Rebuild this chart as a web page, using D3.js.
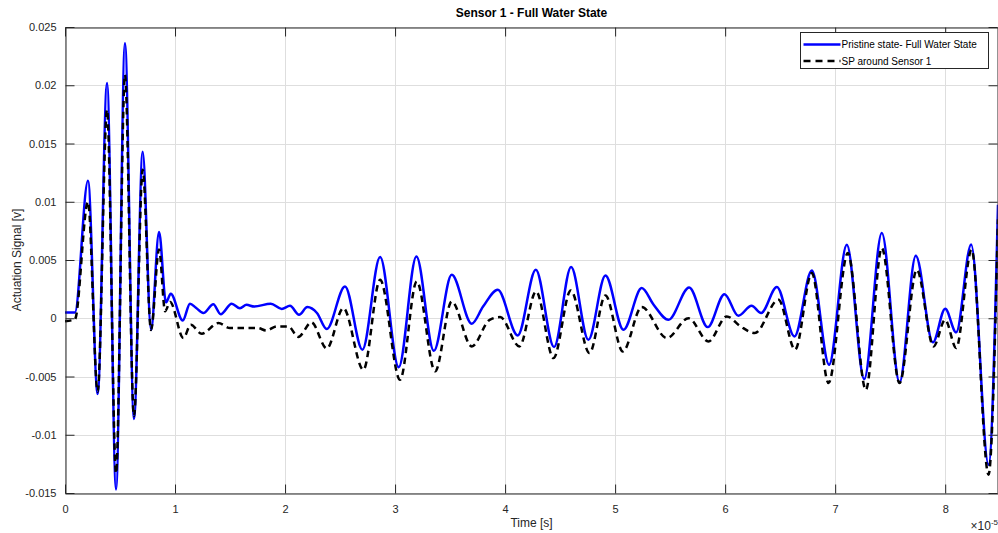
<!DOCTYPE html>
<html>
<head>
<meta charset="utf-8">
<script src="https://cdn.jsdelivr.net/npm/d3@7"></script>
<style>
  body { margin: 0; background: #fff; }
  text { font-family: "Liberation Sans", Arial, sans-serif; fill: #262626; }
</style>
</head>
<body>
<script>
// time in units of 1e-5 s, signal in volts
var pristineTime = [0, 0.09, 0.209, 0.297, 0.382, 0.464, 0.545, 0.627, 0.706, 0.782, 0.855, 0.918, 0.961,
  1.07, 1.136, 1.19, 1.257, 1.348, 1.415, 1.515, 1.59, 1.65, 1.72, 1.87, 1.97, 2.045, 2.127, 2.203, 2.29,
  2.379, 2.545, 2.703, 2.864, 3.033, 3.194, 3.352, 3.515, 3.697, 3.8, 3.933, 4.115, 4.279, 4.445, 4.6,
  4.757, 4.912, 5.076, 5.242, 5.35, 5.485, 5.673, 5.842, 5.994, 6.12, 6.24, 6.327, 6.47, 6.63, 6.788,
  6.945, 7.106, 7.264, 7.424, 7.585, 7.733, 7.888, 8.0, 8.1, 8.236, 8.394, 8.48];
var pristineSignal = [0.0005, 0.0005, 0.0118, -0.0065, 0.0202, -0.0147, 0.0236, -0.00865, 0.0143, -0.001, 0.0074, 0.00135, 0.0021,
  -0.0002, 0.00125, 0.0009, 0.00045, 0.0012, 0.00035, 0.00125, 0.00085, 0.00115, 0.001, 0.00125, 0.0008, 0.00107, 0.0003, 0.00096, 0.00045,
  -0.00093, 0.00273, -0.0027, 0.00525, -0.0042, 0.0053, -0.0028, 0.00373, -0.00047, 0.001, 0.00245, -0.00147, 0.00416, -0.00247, 0.00439,
  -0.00185, 0.00367, -0.00099, 0.00259, 0.00116, -0.00013, 0.00264, -0.00076, 0.00207, 0.00021, 0.00107, 0.00045, 0.00268, -0.00156, 0.0041,
  -0.00399, 0.00631, -0.00522, 0.00731, -0.0055, 0.00536, -0.00207, 0.00082, -0.00121, 0.00634, -0.01257, 0.00974];

var spTime = [0, 0.09, 0.209, 0.297, 0.382, 0.464, 0.545, 0.627, 0.706, 0.782, 0.855, 0.91, 0.955,
  1.076, 1.143, 1.243, 1.394, 1.5, 1.75, 1.83, 1.924, 2.03, 2.12, 2.24, 2.379, 2.53, 2.712, 2.864, 3.045,
  3.197, 3.364, 3.515, 3.697, 3.86, 3.955, 4.13, 4.282, 4.44, 4.597, 4.767, 4.912, 5.07, 5.242, 5.47,
  5.667, 5.848, 6.015, 6.14, 6.27, 6.485, 6.636, 6.788, 6.94, 7.115, 7.279, 7.424, 7.585, 7.742, 7.894,
  8.0, 8.1, 8.24, 8.394, 8.48];
var spSignal = [-0.00025, -0.0001, 0.01, -0.0063, 0.0179, -0.0133, 0.0209, -0.0084, 0.01275, -0.001, 0.0059, 0.0006, 0.0014,
  -0.0017, -0.00056, -0.00133, -0.00041, -0.00084, -0.00084, -0.00105, -0.0007, -0.0007, -0.0016, -0.00036, -0.0026, 0.00087, -0.00442, 0.0033, -0.00528,
  0.00316, -0.00456, 0.00144, -0.00242, -0.00013, 0.0001, -0.00242, 0.0023, -0.00342, 0.00239, -0.00299, 0.00196, -0.00285, 0.00096, -0.0017,
  0, -0.00199, 0.00016, -0.0007, -0.00127, 0.00159, -0.0027, 0.00388, -0.00556, 0.0056, -0.00614, 0.00603, -0.00556, 0.00416, -0.00242,
  -0.00013, -0.00256, 0.00588, -0.01343, 0.0085];

var xTicks = [0, 1, 2, 3, 4, 5, 6, 7, 8];
var xTickLabels = ["0", "1", "2", "3", "4", "5", "6", "7", "8"];
var yTicks = [-0.015, -0.01, -0.005, 0, 0.005, 0.01, 0.015, 0.02, 0.025];
var yTickLabels = ["-0.015", "-0.01", "-0.005", "0", "0.005", "0.01", "0.015", "0.02", "0.025"];
var seriesNames = ["Pristine state- Full Water State", "SP around Sensor 1"];

var W = 998, H = 533;
var plotLeft = 65, plotTop = 27, plotRight = 998, plotBottom = 493;

var x = d3.scaleLinear().domain([0, 8.48]).range([plotLeft, plotRight]);
var y = d3.scaleLinear().domain([-0.015, 0.025]).range([plotBottom, plotTop]);

var svg = d3.select("body").append("svg")
  .attr("width", W)
  .attr("height", H);

svg.append("rect").attr("width", W).attr("height", H).attr("fill", "#fff");

// grid
var grid = svg.append("g").attr("class", "grid");
grid.selectAll("line.gx").data(xTicks).enter().append("line")
  .attr("x1", function(d) { return Math.round(x(d)) + 0.5; })
  .attr("x2", function(d) { return Math.round(x(d)) + 0.5; })
  .attr("y1", plotTop).attr("y2", plotBottom)
  .attr("stroke", "#dedede").attr("stroke-width", 1);
grid.selectAll("line.gy").data(yTicks).enter().append("line")
  .attr("y1", function(d) { return Math.round(y(d)) + 0.5; })
  .attr("y2", function(d) { return Math.round(y(d)) + 0.5; })
  .attr("x1", plotLeft).attr("x2", plotRight)
  .attr("stroke", "#dedede").attr("stroke-width", 1);

// clip for data
svg.append("defs").append("clipPath").attr("id", "clip")
  .append("rect").attr("x", plotLeft).attr("y", plotTop)
  .attr("width", plotRight - plotLeft).attr("height", plotBottom - plotTop);

var line = d3.line()
  .x(function(d) { return x(d[0]); })
  .y(function(d) { return y(d[1]); })
  .curve(d3.curveMonotoneX);

var pristine = pristineTime.map(function(t, i) { return [t, pristineSignal[i]]; });
var sp = spTime.map(function(t, i) { return [t, spSignal[i]]; });

var plot = svg.append("g").attr("clip-path", "url(#clip)");
plot.append("path").datum(pristine)
  .attr("d", line)
  .attr("fill", "none")
  .attr("stroke", "#0000ff")
  .attr("stroke-width", 2.5)
  .attr("stroke-linejoin", "round");
plot.append("path").datum(sp)
  .attr("d", line)
  .attr("fill", "none")
  .attr("stroke", "#000")
  .attr("stroke-width", 2.5)
  .attr("stroke-dasharray", "6.5,4.5");

// axes (box with inward ticks, MATLAB style)
var xAxisB = d3.axisBottom(x).tickValues(xTicks).tickSizeInner(-9).tickSizeOuter(0)
  .tickPadding(12).tickFormat(function(d, i) { return xTickLabels[i]; });
var xAxisT = d3.axisTop(x).tickValues(xTicks).tickSizeInner(-9).tickSizeOuter(0).tickFormat("");
var yAxisL = d3.axisLeft(y).tickValues(yTicks).tickSizeInner(-9).tickSizeOuter(0)
  .tickPadding(9).tickFormat(function(d, i) { return yTickLabels[i]; });
var yAxisR = d3.axisRight(y).tickValues(yTicks).tickSizeInner(-9).tickSizeOuter(0).tickFormat("");

function styleAxis(g) {
  g.select(".domain").attr("stroke", "#262626");
  g.selectAll(".tick line").attr("stroke", "#262626");
  g.selectAll(".tick text").attr("fill", "#262626")
    .style("font-family", "'Liberation Sans', Arial, sans-serif").style("font-size", "11px");
}

svg.append("g").attr("transform", "translate(0," + (plotBottom + 0.5) + ")").call(xAxisB).call(styleAxis);
svg.append("g").attr("transform", "translate(0," + (plotTop + 0.5) + ")").call(xAxisT).call(styleAxis);
svg.append("g").attr("transform", "translate(" + (plotLeft + 0.5) + ",0)").call(yAxisL).call(styleAxis);
svg.append("g").attr("transform", "translate(" + (plotRight - 0.5) + ",0)").call(yAxisR).call(styleAxis);

// exponent label
var ex = svg.append("text")
  .attr("x", 998).attr("y", 530)
  .attr("text-anchor", "end")
  .style("font-size", "12px");
ex.append("tspan").text("\u00d710");
ex.append("tspan").attr("dy", -5).style("font-size", "8px").text("-5");

// title and labels
svg.append("text")
  .attr("x", (plotLeft + plotRight) / 2).attr("y", 17)
  .attr("text-anchor", "middle")
  .style("font-size", "12px").style("font-weight", "bold")
  .style("fill", "#000")
  .text("Sensor 1 - Full Water State");

svg.append("text")
  .attr("x", (plotLeft + plotRight) / 2).attr("y", 527)
  .attr("text-anchor", "middle")
  .style("font-size", "12px")
  .text("Time [s]");

svg.append("text")
  .attr("transform", "translate(21," + ((plotTop + plotBottom) / 2) + ") rotate(-90)")
  .attr("text-anchor", "middle")
  .style("font-size", "12px")
  .text("Actuation Signal [v]");

// legend
var legend = svg.append("g").attr("transform", "translate(800.5,32.5)");
legend.append("rect")
  .attr("width", 188).attr("height", 36)
  .attr("fill", "#fff").attr("stroke", "#262626").attr("stroke-width", 1);
var entries = legend.selectAll("g.entry").data(seriesNames).enter().append("g")
  .attr("transform", function(d, i) { return "translate(0," + (12 + i * 16.5) + ")"; });
entries.append("line")
  .attr("x1", 3).attr("x2", 40).attr("y1", 0).attr("y2", 0)
  .attr("stroke", function(d, i) { return i === 0 ? "#0000ff" : "#000"; })
  .attr("stroke-width", 2.5)
  .attr("stroke-dasharray", function(d, i) { return i === 0 ? null : "7,5"; });
entries.append("text")
  .attr("x", 41).attr("y", 3.5)
  .style("font-size", "10px")
  .style("fill", "#000")
  .text(function(d) { return d; });
</script>
</body>
</html>
